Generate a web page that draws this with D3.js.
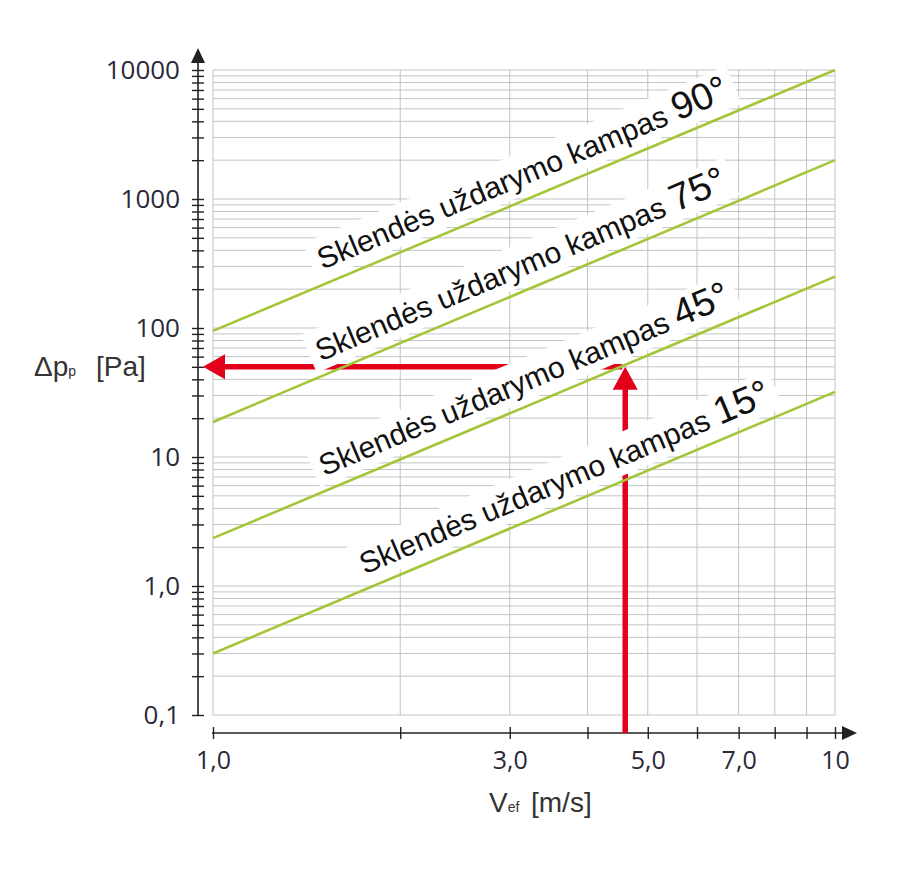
<!DOCTYPE html>
<html>
<head>
<meta charset="utf-8">
<script src="https://cdn.jsdelivr.net/npm/d3@7"></script>
<style>
  body { margin: 0; background: #fff; }
</style>
</head>
<body>
<script>
// chart values
const angleNames = ["90°", "75°", "45°", "15°"];
const pressureAt1 = [95, 18.7, 2.35, 0.3];      // Pa at 1,0 m/s
const pressureAt10 = [10000, 2000, 250, 32];    // Pa at 10 m/s
const labelStartV = [1.53, 1.52, 1.54, 1.79];   // where each label begins
const xLabelValues = [1, 3, 5, 7, 10];
const xLabelText = ["1,0", "3,0", "5,0", "7,0", "10"];
const yLabelValues = [0.1, 1, 10, 100, 1000, 10000];
const yLabelText = ["0,1", "1,0", "10", "100", "1000", "10000"];
const exampleV = 4.6;
const examplePa = 50;

const width = 900, height = 870;
const green = "#a3c639", red = "#e2001a", gridColor = "#c4c4c4", axisColor = "#222";
const labelFont = "'Liberation Sans', Arial, sans-serif";
const tickFont = "'Open Sans', sans-serif";

const svg = d3.select("body").append("svg")
    .attr("width", width)
    .attr("height", height);

const x = d3.scaleLog().domain([1, 10]).range([213, 835]);
const y = d3.scaleLog().domain([0.1, 10000]).range([715, 70]);

const axisX = 198;   // y axis position
const axisY = 733;   // x axis position

// grid
const grid = svg.append("g").attr("stroke", gridColor).attr("stroke-width", 1);
grid.selectAll(".h").data(y.ticks()).join("line")
    .attr("x1", x(1)).attr("x2", x(10))
    .attr("y1", d => y(d)).attr("y2", d => y(d));
grid.selectAll(".v").data(x.ticks()).join("line")
    .attr("x1", d => x(d)).attr("x2", d => x(d))
    .attr("y1", y(0.1)).attr("y2", y(10000));

// y axis
svg.append("line")
    .attr("x1", axisX).attr("x2", axisX)
    .attr("y1", y(0.1)).attr("y2", 56)
    .attr("stroke", axisColor).attr("stroke-width", 1.6);
svg.append("path")
    .attr("d", `M${axisX},48 L${axisX - 7},63 L${axisX + 7},63 Z`)
    .attr("fill", axisColor);

const yTicks = svg.append("g")
    .attr("transform", `translate(${axisX},0)`)
    .call(d3.axisLeft(y).tickValues(y.ticks()).tickFormat("").tickSize(6));
yTicks.select(".domain").remove();
yTicks.selectAll(".tick line").attr("x1", 6).attr("x2", -6)
    .attr("stroke", axisColor).attr("stroke-width", 1.4);

const yLabels = svg.append("g")
    .attr("transform", `translate(${axisX},0)`)
    .call(d3.axisLeft(y).tickValues(yLabelValues)
        .tickFormat((d, i) => yLabelText[i]).tickSize(0).tickPadding(18));
yLabels.select(".domain").remove();
yLabels.selectAll("text")
    .attr("font-family", tickFont).attr("font-size", 26).attr("fill", "#2b2838");

// x axis
svg.append("line")
    .attr("x1", x(1) - 1).attr("x2", 846)
    .attr("y1", axisY).attr("y2", axisY)
    .attr("stroke", axisColor).attr("stroke-width", 1.6);
svg.append("path")
    .attr("d", `M857,${axisY} L842,${axisY - 7} L842,${axisY + 7} Z`)
    .attr("fill", axisColor);

const xTicks = svg.append("g")
    .attr("transform", `translate(0,${axisY})`)
    .call(d3.axisBottom(x).tickValues(x.ticks()).tickFormat("").tickSize(6));
xTicks.select(".domain").remove();
xTicks.selectAll(".tick line").attr("y1", -6).attr("y2", 6)
    .attr("stroke", axisColor).attr("stroke-width", 1.4);

const xLabels = svg.append("g")
    .attr("transform", `translate(0,${axisY})`)
    .call(d3.axisBottom(x).tickValues(xLabelValues)
        .tickFormat((d, i) => xLabelText[i]).tickSize(0).tickPadding(18));
xLabels.select(".domain").remove();
xLabels.selectAll("text")
    .attr("font-family", tickFont).attr("font-size", 25).attr("fill", "#2b2838");

// axis titles
const yTitle = svg.append("text")
    .attr("x", 34).attr("y", 376)
    .attr("font-family", labelFont).attr("font-size", 28).attr("fill", "#333");
yTitle.append("tspan").text("Δp");
yTitle.append("tspan").attr("font-size", 14).text("p");
yTitle.append("tspan").attr("x", 96).text("[Pa]");

const xTitle = svg.append("text")
    .attr("x", 489).attr("y", 812)
    .attr("font-family", labelFont).attr("font-size", 28).attr("fill", "#333");
xTitle.append("tspan").text("V");
xTitle.append("tspan").attr("font-size", 14).text("ef");
xTitle.append("tspan").attr("x", 531).text("[m/s]");

// red reading arrows
const px = x(exampleV), py = y(examplePa);
const arrows = svg.append("g");
arrows.append("line")
    .attr("x1", px).attr("x2", px)
    .attr("y1", axisY).attr("y2", py + 20)
    .attr("stroke", red).attr("stroke-width", 5.5);
arrows.append("path")
    .attr("d", `M${px},${py} L${px - 12.5},${py + 23} L${px + 12.5},${py + 23} Z`)
    .attr("fill", red);
const leftTip = x(1) - 10;
arrows.append("line")
    .attr("x1", px - 3).attr("x2", leftTip + 18)
    .attr("y1", py).attr("y2", py)
    .attr("stroke", red).attr("stroke-width", 5.5);
arrows.append("path")
    .attr("d", `M${leftTip},${py} L${leftTip + 22},${py - 12.5} L${leftTip + 22},${py + 12.5} Z`)
    .attr("fill", red);

// label boxes, lines, labels
const boxes = svg.append("g");
const lines = svg.append("g");
const labels = svg.append("g");

const line = d3.line().x(d => x(d[0])).y(d => y(d[1]));

angleNames.forEach((name, i) => {
    const pts = [[1, pressureAt1[i]], [10, pressureAt10[i]]];
    lines.append("path")
        .attr("d", line(pts))
        .attr("fill", "none")
        .attr("stroke", green)
        .attr("stroke-width", 2.6);

    const ang = Math.atan2(y(pressureAt10[i]) - y(pressureAt1[i]), x(10) - x(1));
    const deg = ang * 180 / Math.PI;
    const v0 = labelStartV[i];
    const p0 = Math.exp(Math.log(pressureAt1[i]) +
        (Math.log(pressureAt10[i]) - Math.log(pressureAt1[i])) * Math.log10(v0));
    const off = 14;
    const lx = x(v0) + off * Math.sin(ang);
    const ly = y(p0) - off * Math.cos(ang);
    const tf = `translate(${lx},${ly}) rotate(${deg})`;

    const t = labels.append("text")
        .attr("transform", tf)
        .attr("font-family", labelFont)
        .attr("font-size", 30)
        .attr("fill", "#111");
    t.append("tspan").text("Sklendės uždarymo kampas ");
    t.append("tspan").attr("font-size", 38).text(name);

    const w = t.node().getComputedTextLength();
    boxes.append("rect")
        .attr("transform", tf)
        .attr("x", -8).attr("y", -32)
        .attr("width", w + 16).attr("height", 41)
        .attr("fill", "#fff");
});
</script>
</body>
</html>
